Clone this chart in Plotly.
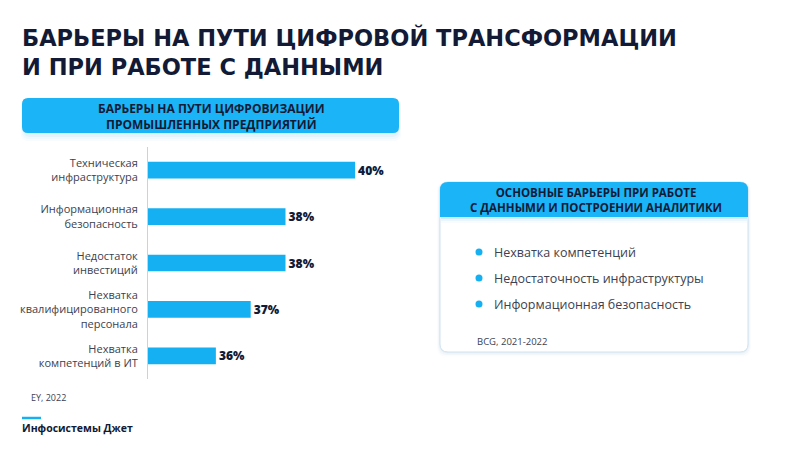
import plotly.graph_objects as go

# страница в браузере имеет отступ 8px, поэтому фигура чуть меньше окна
OFF = 8
W, H = 800 - OFF, 450 - OFF

# данные
categories = [
    "Техническая<br>инфраструктура",
    "Информационная<br>безопасность",
    "Недостаток<br>инвестиций",
    "Нехватка<br>квалифицированного<br>персонала",
    "Нехватка<br>компетенций в ИТ",
]
values = [40, 38, 38, 37, 36]
value_labels = ["40%", "38%", "38%", "37%", "36%"]

bullets = [
    "Нехватка компетенций",
    "Недостаточность инфраструктуры",
    "Информационная безопасность",
]

title_text = "БАРЬЕРЫ НА ПУТИ ЦИФРОВОЙ ТРАНСФОРМАЦИИ<br>И ПРИ РАБОТЕ С ДАННЫМИ"
left_header = "БАРЬЕРЫ НА ПУТИ ЦИФРОВИЗАЦИИ<br>ПРОМЫШЛЕННЫХ ПРЕДПРИЯТИЙ"
right_header = "ОСНОВНЫЕ БАРЬЕРЫ ПРИ РАБОТЕ<br>С ДАННЫМИ И ПОСТРОЕНИИ АНАЛИТИКИ"

NAVY = "#121a35"
BLUE = "#14b0f2"
HEAD = "#1ab4f7"
GRAY = "#3c4250"
FONT = "Open Sans"


def px(x):
    return (x - OFF) / W


def py(y):
    return 1 - (y - OFF) / H


def rrect(x0, y0, x1, y1, r, top_only=False):
    rb = 0 if top_only else r
    pts = [
        f"M {px(x0 + r)},{py(y0)}",
        f"L {px(x1 - r)},{py(y0)}",
        f"Q {px(x1)},{py(y0)} {px(x1)},{py(y0 + r)}",
        f"L {px(x1)},{py(y1 - rb)}",
        f"Q {px(x1)},{py(y1)} {px(x1 - rb)},{py(y1)}",
        f"L {px(x0 + rb)},{py(y1)}",
        f"Q {px(x0)},{py(y1)} {px(x0)},{py(y1 - rb)}",
        f"L {px(x0)},{py(y0 + r)}",
        f"Q {px(x0)},{py(y0)} {px(x0 + r)},{py(y0)}",
        "Z",
    ]
    return " ".join(pts)


fig = go.Figure()
fig.add_trace(
    go.Bar(
        x=values,
        y=categories,
        orientation="h",
        marker=dict(color=BLUE, line=dict(width=0)),
        width=0.36,
        text=value_labels,
        textposition="outside",
        textfont=dict(family=FONT, size=13, color=NAVY, weight=800),
        cliponaxis=False,
        hoverinfo="skip",
    )
)

shapes = []
# тень и плашка левого заголовка
for i, a in enumerate([0.05, 0.04, 0.03]):
    d = i + 1
    shapes.append(dict(type="path", xref="paper", yref="paper",
                       path=rrect(24 - d, 100, 398 + d, 135 + d * 2, 7),
                       fillcolor=f"rgba(20,150,230,{a})", line=dict(width=0), layer="below"))
shapes.append(dict(type="path", xref="paper", yref="paper",
                   path=rrect(22, 98, 399, 133, 6),
                   fillcolor=HEAD, line=dict(width=0), layer="below"))

# правая карточка
for i, a in enumerate([0.05, 0.035, 0.02]):
    d = i + 1
    shapes.append(dict(type="path", xref="paper", yref="paper",
                       path=rrect(440 - d, 182, 748 + d, 352 + d * 1.5, 9),
                       fillcolor=f"rgba(60,120,170,{a})", line=dict(width=0), layer="below"))
shapes.append(dict(type="path", xref="paper", yref="paper",
                   path=rrect(440, 182, 748, 352, 8),
                   fillcolor="white", line=dict(color="#cfe3f0", width=1), layer="below"))
for i, a in enumerate([0.10, 0.06, 0.03]):
    shapes.append(dict(type="rect", xref="paper", yref="paper",
                       x0=px(441), x1=px(747), y0=py(217 + (i + 1) * 2), y1=py(217),
                       fillcolor=f"rgba(20,150,230,{a})", line=dict(width=0), layer="below"))
shapes.append(dict(type="path", xref="paper", yref="paper",
                   path=rrect(440, 182, 748, 217, 8, top_only=True),
                   fillcolor=HEAD, line=dict(width=0), layer="below"))

# маркеры списка
bullet_y0, bullet_step = 252, 26
for i, _ in enumerate(bullets):
    yc = bullet_y0 + i * bullet_step
    shapes.append(dict(type="circle", xref="paper", yref="paper",
                       x0=px(475.5), x1=px(482.5), y0=py(yc + 3.5), y1=py(yc - 3.5),
                       fillcolor=BLUE, line=dict(width=0)))

# линия логотипа
shapes.append(dict(type="line", xref="paper", yref="paper",
                   x0=px(22), x1=px(41), y0=py(418), y1=py(418),
                   line=dict(color=BLUE, width=2.5)))

annotations = []
annotations.append(dict(text=title_text, x=px(20), y=py(52), xref="paper", yref="paper",
                        xanchor="left", yanchor="middle", align="left", showarrow=False,
                        font=dict(family="DejaVu Sans", size=22.5, color=NAVY, weight="bold")))
annotations.append(dict(text=left_header, x=px(211), y=py(116.5), xref="paper", yref="paper",
                        xanchor="center", yanchor="middle", showarrow=False,
                        font=dict(family=FONT, size=12, color=NAVY, weight="bold")))
annotations.append(dict(text=right_header, x=px(596), y=py(199.5), xref="paper", yref="paper",
                        xanchor="center", yanchor="middle", showarrow=False,
                        font=dict(family=FONT, size=11.5, color=NAVY, weight="bold")))
for i, t in enumerate(bullets):
    annotations.append(dict(text=t, x=px(492), y=py(bullet_y0 + i * bullet_step), xref="paper", yref="paper",
                            xanchor="left", yanchor="middle", showarrow=False,
                            font=dict(family=FONT, size=12.5, color=GRAY)))
annotations.append(dict(text="BCG, 2021-2022", x=px(475), y=py(341), xref="paper", yref="paper",
                        xanchor="left", yanchor="middle", showarrow=False,
                        font=dict(family=FONT, size=9.5, color=GRAY)))
annotations.append(dict(text="EY, 2022", x=px(29), y=py(397), xref="paper", yref="paper",
                        xanchor="left", yanchor="middle", showarrow=False,
                        font=dict(family=FONT, size=9, color=GRAY)))
annotations.append(dict(text="Инфосистемы Джет", x=px(20), y=py(428), xref="paper", yref="paper",
                        xanchor="left", yanchor="middle", showarrow=False,
                        font=dict(family=FONT, size=10.5, color=NAVY, weight="bold")))

fig.update_layout(
    width=W,
    height=H,
    margin=dict(l=0, r=0, t=0, b=0),
    paper_bgcolor="white",
    plot_bgcolor="white",
    showlegend=False,
    shapes=shapes,
    annotations=annotations,
    xaxis=dict(
        domain=[px(148), px(400)],
        range=[34.05, 41.29],
        showgrid=False,
        zeroline=False,
        showticklabels=False,
        showline=False,
        fixedrange=True,
    ),
    yaxis=dict(
        domain=[py(379), py(147)],
        categoryorder="array",
        categoryarray=categories,
        autorange="reversed",
        showgrid=False,
        zeroline=False,
        showline=True,
        linecolor="#c9d3dc",
        linewidth=1,
        ticks="",
        ticklabelstandoff=7,
        tickfont=dict(family=FONT, size=11, color=GRAY),
        fixedrange=True,
    ),
)

fig.write_html("out.html")
